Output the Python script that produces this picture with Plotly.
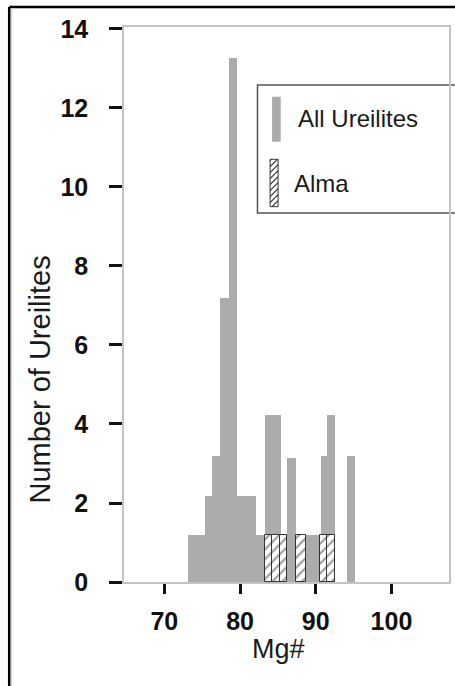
import plotly.graph_objects as go

# ---------------- data ----------------
# All Ureilites histogram: bin lower edge, upper edge (Mg#), count
all_lo    = [73.12, 75.31, 76.32, 77.37, 78.50, 79.55, 82.09, 83.32, 85.38, 86.25, 87.35, 90.63, 91.50, 94.13]
all_hi    = [75.31, 76.32, 77.37, 78.50, 79.55, 82.09, 83.32, 85.38, 86.25, 87.35, 90.63, 91.50, 92.60, 95.14]
all_count = [1.18, 2.18, 3.18, 7.2, 13.27, 2.18, 1.18, 4.24, 1.18, 3.15, 1.18, 3.18, 4.24, 3.18]

# Alma histogram
alma_lo    = [83.32, 84.28, 85.29, 87.43, 90.50, 91.55]
alma_hi    = [84.28, 85.29, 86.25, 88.66, 91.55, 92.60]
alma_count = [1.18, 1.18, 1.18, 1.18, 1.18, 1.18]

x_ticks = [70, 80, 90, 100]
y_ticks = [0, 2, 4, 6, 8, 10, 12, 14]

series_names = ["All Ureilites", "Alma"]
x_title = "Mg#"
y_title = "Number of Ureilites"

# ---------------- figure geometry ----------------
W, H = 455, 686
L, R, T, B = 124, 451, 27, 582


def px(xp):
    return (xp - L) / (R - L)


def py(yp):
    return (B - yp) / (B - T)


FONT = "Liberation Sans, Arial, Helvetica, sans-serif"
GRAY = "#acacac"
DARK = "#333333"

fig = go.Figure()

fig.add_trace(go.Bar(
    x=[(a + b) / 2 for a, b in zip(all_lo, all_hi)],
    y=all_count,
    width=[b - a for a, b in zip(all_lo, all_hi)],
    marker=dict(color=GRAY, line=dict(width=0)),
    name=series_names[0],
    showlegend=False,
))

fig.add_trace(go.Bar(
    x=[(a + b) / 2 for a, b in zip(alma_lo, alma_hi)],
    y=alma_count,
    width=[b - a for a, b in zip(alma_lo, alma_hi)],
    marker=dict(
        color="white",
        line=dict(color=DARK, width=1),
        pattern=dict(shape="/", fgcolor=DARK, bgcolor="white", size=7, solidity=0.3),
    ),
    name=series_names[1],
    showlegend=False,
))

shapes = []
# outer frame (top and left black lines of the cropped figure)
shapes.append(dict(type="line", xref="paper", yref="paper", x0=px(8.5), x1=px(470), y0=py(7), y1=py(7),
                   line=dict(color="black", width=2.5), layer="above"))
shapes.append(dict(type="line", xref="paper", yref="paper", x0=px(8.5), x1=px(8.5), y0=py(7), y1=py(700),
                   line=dict(color="black", width=2.5), layer="above"))
shapes.append(dict(type="line", xref="paper", yref="paper", x0=px(11), x1=px(11), y0=py(9), y1=py(700),
                   line=dict(color="#c8c8c8", width=1), layer="above"))

# legend box
shapes.append(dict(type="rect", xref="paper", yref="paper", x0=px(258.3), x1=px(475), y0=py(213), y1=py(85),
                   line=dict(color="#555555", width=1.5), fillcolor="white", layer="below"))
# legend swatch: all ureilites
shapes.append(dict(type="rect", xref="paper", yref="paper", x0=px(273), x1=px(281.7), y0=py(141.7), y1=py(96.7),
                   line=dict(width=0), fillcolor=GRAY, layer="above"))
# legend swatch: Alma (hatched)
sx0, sx1, sy_top, sy_bot = 271.0, 279.0, 159.3, 206.7
shapes.append(dict(type="rect", xref="paper", yref="paper", x0=px(sx0), x1=px(sx1), y0=py(sy_bot), y1=py(sy_top),
                   line=dict(color=DARK, width=1), fillcolor="white", layer="above"))
w = sx1 - sx0
path = ""
c = -w
while c < (sy_bot - sy_top) + w:
    ax, ay = sx0, sy_bot - c
    bx, by = sx1, sy_bot - c - w
    if ay > sy_bot:
        ax = sx0 + (ay - sy_bot)
        ay = sy_bot
    if by < sy_top:
        bx = sx1 - (sy_top - by)
        by = sy_top
    if ax < bx and ay >= by:
        path += f"M{px(ax)},{py(ay)} L{px(bx)},{py(by)} "
    c += 6
shapes.append(dict(type="path", xref="paper", yref="paper", path=path,
                   line=dict(color=DARK, width=1.2), layer="above"))

annotations = [
    dict(text=series_names[0], x=px(296.7), y=py(118), xref="paper", yref="paper",
         xanchor="left", yanchor="middle", showarrow=False,
         font=dict(family=FONT, size=24, color="#1a1a1a")),
    dict(text=series_names[1], x=px(293.3), y=py(183.5), xref="paper", yref="paper",
         xanchor="left", yanchor="middle", showarrow=False,
         font=dict(family=FONT, size=24, color="#1a1a1a")),
    dict(text=x_title, x=px(279), y=py(649), xref="paper", yref="paper",
         xanchor="center", yanchor="middle", showarrow=False,
         font=dict(family=FONT, size=27, color="#1a1a1a")),
    dict(text=y_title, x=px(39), y=py(380), xref="paper", yref="paper",
         xanchor="center", yanchor="middle", showarrow=False, textangle=-90,
         font=dict(family=FONT, size=29, color="#1a1a1a")),
]

axis_common = dict(
    showgrid=False, zeroline=False, showline=True, linecolor="#c4c4c4", linewidth=1.5,
    mirror=True, ticks="outside", tickcolor="#111111", tickwidth=2.5,
    tickfont=dict(family=FONT, size=25, color="#111111", weight="bold"),
)

fig.update_layout(
    width=W, height=H, autosize=False,
    margin=dict(l=L, r=W - R, t=T, b=H - B, pad=0),
    paper_bgcolor="white", plot_bgcolor="white",
    barmode="overlay", bargap=0,
    showlegend=False,
    shapes=shapes, annotations=annotations,
    xaxis=dict(range=[64.67, 107.6], tickvals=x_ticks, ticklen=10, ticklabelstandoff=6, **axis_common),
    yaxis=dict(range=[0, 14.05], tickvals=y_ticks, ticklen=13, ticklabelstandoff=16, **axis_common),
)

fig.write_html(
    "out.html",
    config={"displayModeBar": False},
    post_script="document.body.style.margin='0px';document.body.style.overflow='hidden';",
)
